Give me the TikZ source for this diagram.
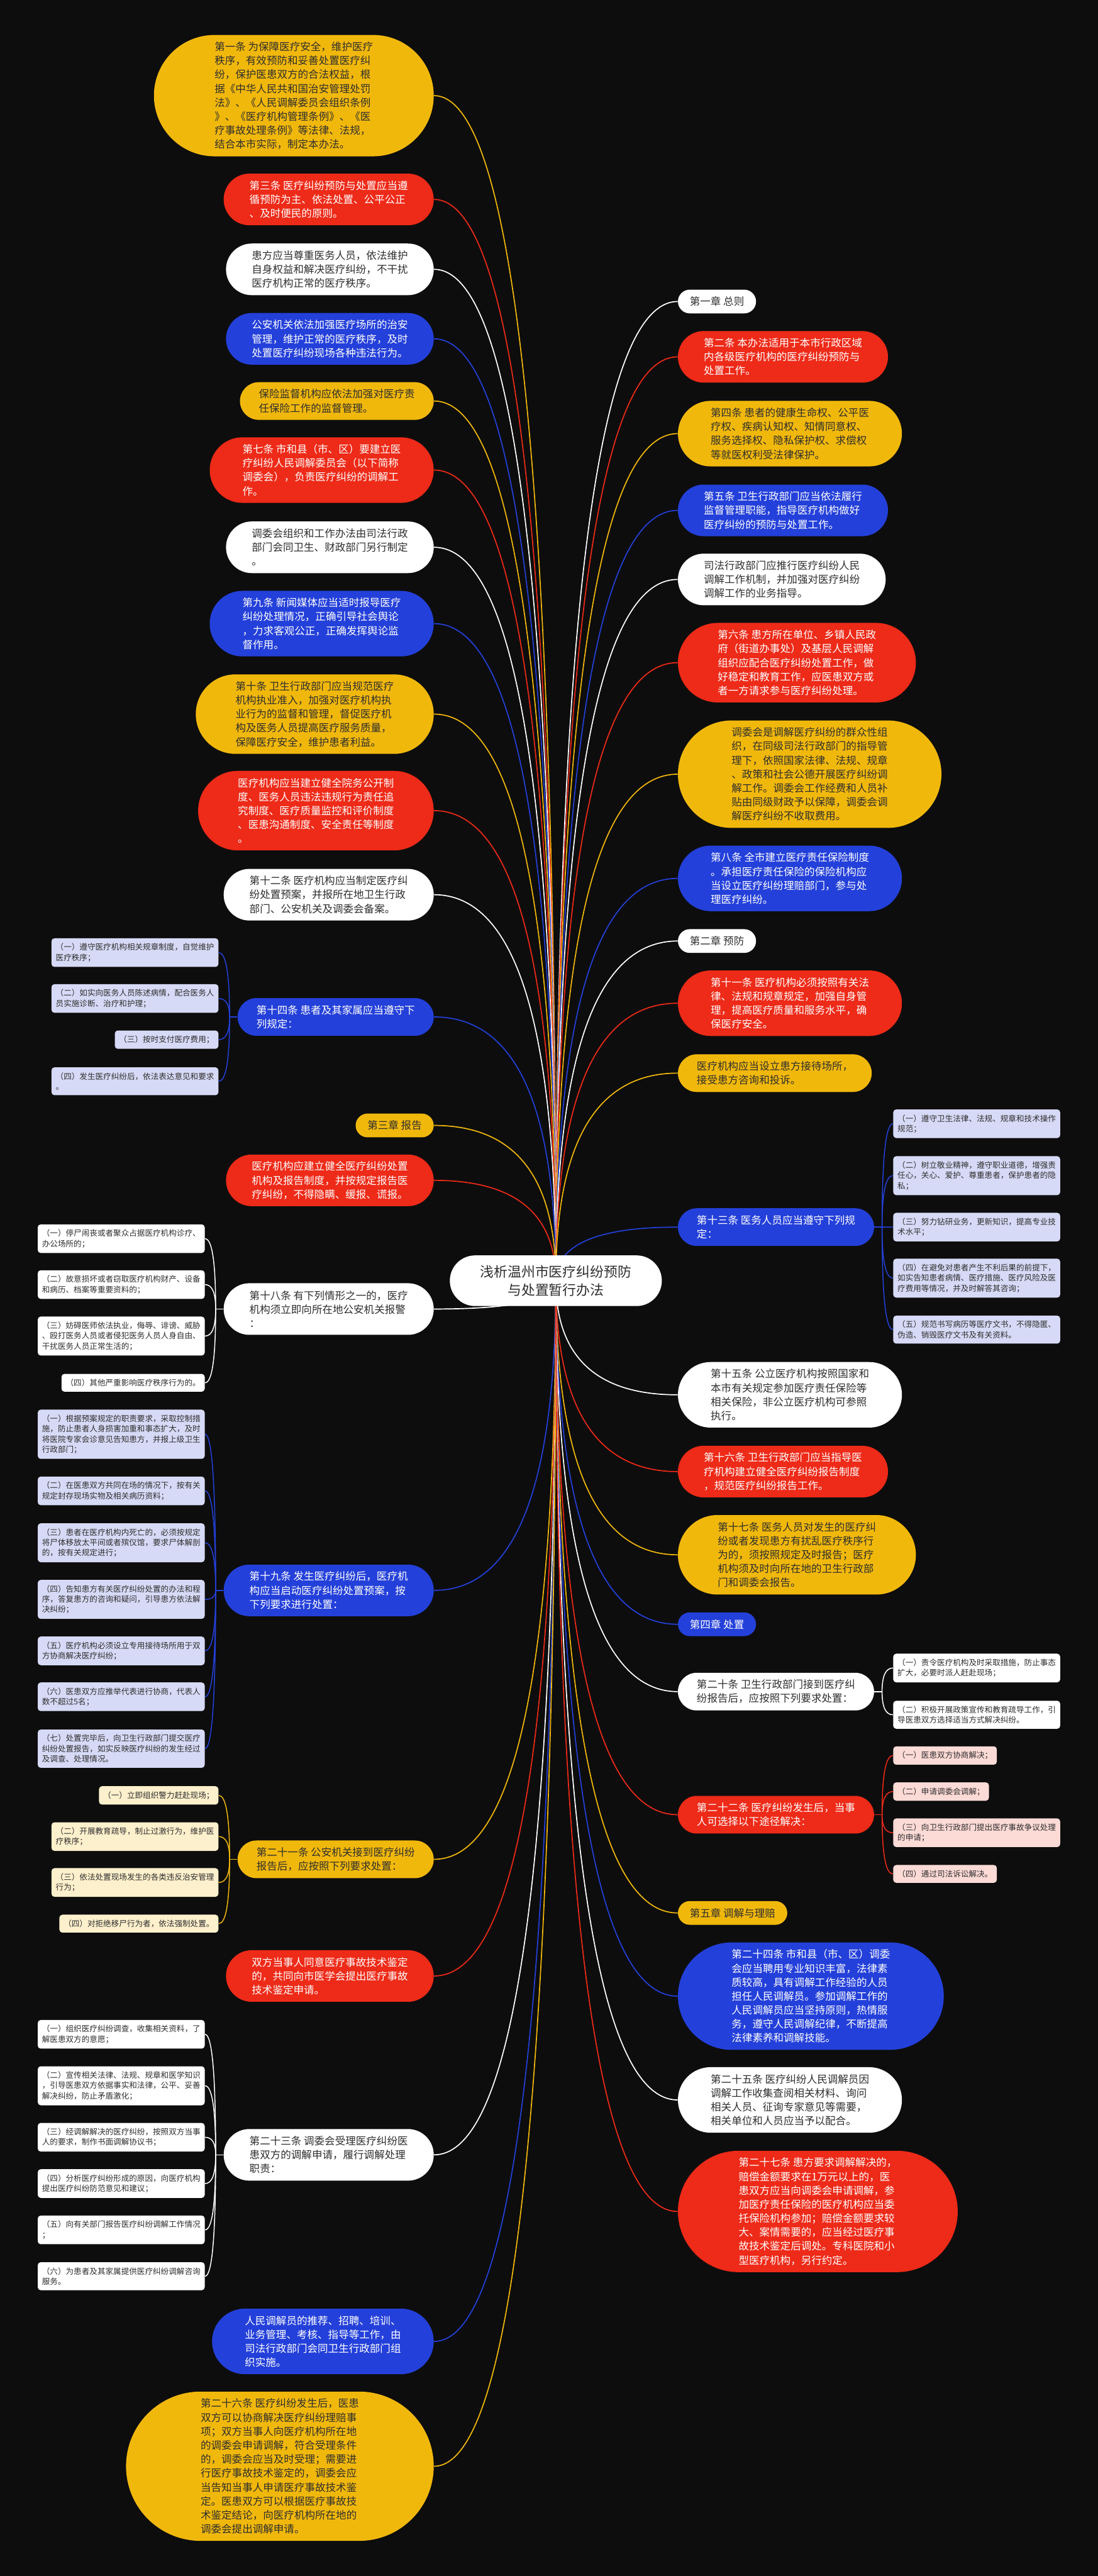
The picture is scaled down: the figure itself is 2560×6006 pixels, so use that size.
\documentclass[tikz,border=0pt]{standalone}
\usepackage{fontspec}
\newfontfamily\cjk{Noto Sans CJK SC}
\usetikzlibrary{calc}
\pgfdeclarelayer{back}
\pgfsetlayers{back,main}

\definecolor{canvas}{HTML}{0D0D0D}
\definecolor{mmYellow}{HTML}{F1B80C}
\definecolor{mmRed}{HTML}{EE2A18}
\definecolor{mmBlue}{HTML}{2440DA}
\definecolor{ink}{HTML}{2E2E2E}
\definecolor{leafBlue}{HTML}{D7DAF6}
\definecolor{leafYellow}{HTML}{FDF0CC}
\definecolor{leafRed}{HTML}{FCDAD6}

% #1 = number of text lines in the pill
\tikzset{
  topic/.style={rectangle, align=left, inner ysep=0pt,
    minimum height={0.228cm+0.325cm*#1},
    inner xsep={0.114cm+0.1625cm*#1},
    rounded corners={0.1135cm+0.1625cm*#1},
    font=\cjk\fontsize{6.9}{9.25}\selectfont},
  ytopic/.style={topic=#1, fill=mmYellow, text=ink},
  rtopic/.style={topic=#1, fill=mmRed, text=white},
  btopic/.style={topic=#1, fill=mmBlue, text=white},
  wtopic/.style={topic=#1, fill=white, text=ink},
  roottopic/.style={rectangle, fill=white, text=ink, align=center,
    minimum width=4.94cm, minimum height=1.18cm, rounded corners=0.589cm,
    font=\cjk\fontsize{9.1}{12.2}\selectfont},
  leaf/.style={rectangle, rounded corners=0.07cm, inner xsep=0.1cm, inner ysep=0.12cm,
    align=left, text=ink, font=\cjk\fontsize{5.25}{6.83}\selectfont},
  bleaf/.style={leaf, fill=leafBlue},
  yleaf/.style={leaf, fill=leafYellow},
  rleaf/.style={leaf, fill=leafRed},
  wleaf/.style={leaf, fill=white},
  branch/.style={line width=0.025cm, to path={
    .. controls ($(\tikztostart)!0.667!(\tikztostart|-\tikztotarget)$)
    and ($(\tikztotarget)!0.667!(\tikztostart|-\tikztotarget)$) .. (\tikztotarget)}},
  twig/.style={branch, line width=0.022cm},
}

\begin{document}
\begin{tikzpicture}[x=0.01cm, y=-0.01cm]
  \useasboundingbox (0,0) rectangle (2560,6006);

  \node[roottopic] (root) at (1296,2986) {浅析温州市医疗纠纷预防\\与处置暂行办法};

  % left side
  \node[ytopic=8, anchor=east] (L1) at (1012,223) {第一条 为保障医疗安全，维护医疗\\秩序，有效预防和妥善处置医疗纠\\纷，保护医患双方的合法权益，根\\据《中华人民共和国治安管理处罚\\法》、《人民调解委员会组织条例\\》、《医疗机构管理条例》、《医\\疗事故处理条例》等法律、法规，\\结合本市实际，制定本办法。};
  \node[rtopic=3, anchor=east] (L3) at (1012,465) {第三条 医疗纠纷预防与处置应当遵\\循预防为主、依法处置、公平公正\\、及时便民的原则。};
  \node[wtopic=3, anchor=east] (L3a) at (1012,628) {患方应当尊重医务人员，依法维护\\自身权益和解决医疗纠纷，不干扰\\医疗机构正常的医疗秩序。};
  \node[btopic=3, anchor=east] (L3b) at (1012,790) {公安机关依法加强医疗场所的治安\\管理，维护正常的医疗秩序，及时\\处置医疗纠纷现场各种违法行为。};
  \node[ytopic=2, anchor=east] (L3c) at (1012,935) {保险监督机构应依法加强对医疗责\\任保险工作的监督管理。};
  \node[rtopic=4, anchor=east] (L7) at (1012,1096) {第七条 市和县（市、区）要建立医\\疗纠纷人民调解委员会（以下简称\\调委会），负责医疗纠纷的调解工\\作。};
  \node[wtopic=3, anchor=east] (L7a) at (1012,1276) {调委会组织和工作办法由司法行政\\部门会同卫生、财政部门另行制定\\。};
  \node[btopic=4, anchor=east] (L9) at (1012,1454) {第九条 新闻媒体应当适时报导医疗\\纠纷处理情况，正确引导社会舆论\\，力求客观公正，正确发挥舆论监\\督作用。};
  \node[ytopic=5, anchor=east] (L10) at (1012,1665) {第十条 卫生行政部门应当规范医疗\\机构执业准入，加强对医疗机构执\\业行为的监督和管理，督促医疗机\\构及医务人员提高医疗服务质量，\\保障医疗安全，维护患者利益。};
  \node[rtopic=5, anchor=east] (L10a) at (1012,1890) {医疗机构应当建立健全院务公开制\\度、医务人员违法违规行为责任追\\究制度、医疗质量监控和评价制度\\、医患沟通制度、安全责任等制度\\。};
  \node[wtopic=3, anchor=east] (L12) at (1012,2086) {第十二条 医疗机构应当制定医疗纠\\纷处置预案，并报所在地卫生行政\\部门、公安机关及调委会备案。};
  \node[btopic=2, anchor=east] (L14) at (1012,2371) {第十四条 患者及其家属应当遵守下\\列规定：};
  \node[ytopic=1, anchor=east] (C3) at (1012,2624) {第三章 报告};
  \node[rtopic=3, anchor=east] (L16) at (1012,2752) {医疗机构应建立健全医疗纠纷处置\\机构及报告制度，并按规定报告医\\疗纠纷，不得隐瞒、缓报、谎报。};
  \node[wtopic=3, anchor=east] (L18) at (1012,3052) {第十八条 有下列情形之一的，医疗\\机构须立即向所在地公安机关报警\\：};
  \node[btopic=3, anchor=east] (L19) at (1012,3708) {第十九条 发生医疗纠纷后，医疗机\\构应当启动医疗纠纷处置预案，按\\下列要求进行处置：};
  \node[ytopic=2, anchor=east] (L21) at (1012,4335) {第二十一条 公安机关接到医疗纠纷\\报告后，应按照下列要求处置：};
  \node[rtopic=3, anchor=east] (L22) at (1012,4607) {双方当事人同意医疗事故技术鉴定\\的，共同向市医学会提出医疗事故\\技术鉴定申请。};
  \node[wtopic=3, anchor=east] (L23) at (1012,5024) {第二十三条 调委会受理医疗纠纷医\\患双方的调解申请，履行调解处理\\职责：};
  \node[btopic=4, anchor=east] (L24) at (1012,5459) {人民调解员的推荐、招聘、培训、\\业务管理、考核、指导等工作，由\\司法行政部门会同卫生行政部门组\\织实施。};
  \node[ytopic=10, anchor=east] (L26) at (1012,5750) {第二十六条 医疗纠纷发生后，医患\\双方可以协商解决医疗纠纷理赔事\\项；双方当事人向医疗机构所在地\\的调委会申请调解，符合受理条件\\的，调委会应当及时受理；需要进\\行医疗事故技术鉴定的，调委会应\\当告知当事人申请医疗事故技术鉴\\定。医患双方可以根据医疗事故技\\术鉴定结论，向医疗机构所在地的\\调委会提出调解申请。};

  % right side
  \node[wtopic=1, anchor=west] (C1) at (1580,703) {第一章 总则};
  \node[rtopic=3, anchor=west] (R2) at (1580,832) {第二条 本办法适用于本市行政区域\\内各级医疗机构的医疗纠纷预防与\\处置工作。};
  \node[ytopic=4, anchor=west] (R4) at (1580,1011) {第四条 患者的健康生命权、公平医\\疗权、疾病认知权、知情同意权、\\服务选择权、隐私保护权、求偿权\\等就医权利受法律保护。};
  \node[btopic=3, anchor=west] (R5) at (1580,1190) {第五条 卫生行政部门应当依法履行\\监督管理职能，指导医疗机构做好\\医疗纠纷的预防与处置工作。};
  \node[wtopic=3, anchor=west] (R5a) at (1580,1351) {司法行政部门应推行医疗纠纷人民\\调解工作机制，并加强对医疗纠纷\\调解工作的业务指导。};
  \node[rtopic=5, anchor=west] (R6) at (1580,1545) {第六条 患方所在单位、乡镇人民政\\府（街道办事处）及基层人民调解\\组织应配合医疗纠纷处置工作，做\\好稳定和教育工作，应医患双方或\\者一方请求参与医疗纠纷处理。};
  \node[ytopic=7, anchor=west] (R7) at (1580,1805) {调委会是调解医疗纠纷的群众性组\\织，在同级司法行政部门的指导管\\理下，依照国家法律、法规、规章\\、政策和社会公德开展医疗纠纷调\\解工作。调委会工作经费和人员补\\贴由同级财政予以保障，调委会调\\解医疗纠纷不收取费用。};
  \node[btopic=4, anchor=west] (R8) at (1580,2048) {第八条 全市建立医疗责任保险制度\\。承担医疗责任保险的保险机构应\\当设立医疗纠纷理赔部门，参与处\\理医疗纠纷。};
  \node[wtopic=1, anchor=west] (C2) at (1580,2194) {第二章 预防};
  \node[rtopic=4, anchor=west] (R11) at (1580,2339) {第十一条 医疗机构必须按照有关法\\律、法规和规章规定，加强自身管\\理，提高医疗质量和服务水平，确\\保医疗安全。};
  \node[ytopic=2, anchor=west] (R11a) at (1580,2502) {医疗机构应当设立患方接待场所，\\接受患方咨询和投诉。};
  \node[btopic=2, anchor=west] (R13) at (1580,2861) {第十三条 医务人员应当遵守下列规\\定：};
  \node[wtopic=4, anchor=west] (R15) at (1580,3252) {第十五条 公立医疗机构按照国家和\\本市有关规定参加医疗责任保险等\\相关保险，非公立医疗机构可参照\\执行。};
  \node[rtopic=3, anchor=west] (R16) at (1580,3431) {第十六条 卫生行政部门应当指导医\\疗机构建立健全医疗纠纷报告制度\\，规范医疗纠纷报告工作。};
  \node[ytopic=5, anchor=west] (R17) at (1580,3625) {第十七条 医务人员对发生的医疗纠\\纷或者发现患方有扰乱医疗秩序行\\为的，须按照规定及时报告；医疗\\机构须及时向所在地的卫生行政部\\门和调委会报告。};
  \node[btopic=1, anchor=west] (C4) at (1580,3787) {第四章 处置};
  \node[wtopic=2, anchor=west] (R20) at (1580,3944) {第二十条 卫生行政部门接到医疗纠\\纷报告后，应按照下列要求处置：};
  \node[rtopic=2, anchor=west] (R22) at (1580,4231) {第二十二条 医疗纠纷发生后，当事\\人可选择以下途径解决：};
  \node[ytopic=1, anchor=west] (C5) at (1580,4460) {第五章 调解与理赔};
  \node[btopic=7, anchor=west] (R24) at (1580,4654) {第二十四条 市和县（市、区）调委\\会应当聘用专业知识丰富，法律素\\质较高，具有调解工作经验的人员\\担任人民调解员。参加调解工作的\\人民调解员应当坚持原则，热情服\\务，遵守人民调解纪律，不断提高\\法律素养和调解技能。};
  \node[wtopic=4, anchor=west] (R25) at (1580,4896) {第二十五条 医疗纠纷人民调解员因\\调解工作收集查阅相关材料、询问\\相关人员、征询专家意见等需要，\\相关单位和人员应当予以配合。};
  \node[rtopic=8, anchor=west] (R27) at (1580,5156) {第二十七条 患方要求调解解决的，\\赔偿金额要求在1万元以上的，医\\患双方应当向调委会申请调解，参\\加医疗责任保险的医疗机构应当委\\托保险机构参加；赔偿金额要求较\\大、案情需要的，应当经过医疗事\\故技术鉴定后调处。专科医院和小\\型医疗机构，另行约定。};

  % leaves of L14
  \node[bleaf, anchor=east] (L14a) at (510,2221) {（一）遵守医疗机构相关规章制度，自觉维护\\医疗秩序；};
  \node[bleaf, anchor=east] (L14b) at (510,2328) {（二）如实向医务人员陈述病情，配合医务人\\员实施诊断、治疗和护理；};
  \node[bleaf, anchor=east] (L14c) at (510,2424) {（三）按时支付医疗费用；};
  \node[bleaf, anchor=east] (L14d) at (510,2521) {（四）发生医疗纠纷后，依法表达意见和要求\\。};
  % leaves of L18
  \node[wleaf, anchor=east] (L18a) at (478,2888) {（一）停尸闹丧或者聚众占据医疗机构诊疗、\\办公场所的；};
  \node[wleaf, anchor=east] (L18b) at (478,2995) {（二）故意损坏或者窃取医疗机构财产、设备\\和病历、档案等重要资料的；};
  \node[wleaf, anchor=east] (L18c) at (478,3115) {（三）妨碍医师依法执业，侮辱、诽谤、威胁\\、殴打医务人员或者侵犯医务人员人身自由、\\干扰医务人员正常生活的；};
  \node[wleaf, anchor=east] (L18d) at (478,3224) {（四）其他严重影响医疗秩序行为的。};
  % leaves of L19
  \node[bleaf, anchor=east] (L19a) at (478,3344) {（一）根据预案规定的职责要求，采取控制措\\施，防止患者人身损害加重和事态扩大，及时\\将医院专家会诊意见告知患方，并报上级卫生\\行政部门；};
  \node[bleaf, anchor=east] (L19b) at (478,3476) {（二）在医患双方共同在场的情况下，按有关\\规定封存现场实物及相关病历资料；};
  \node[bleaf, anchor=east] (L19c) at (478,3597) {（三）患者在医疗机构内死亡的，必须按规定\\将尸体移放太平间或者殡仪馆，要求尸体解剖\\的，按有关规定进行；};
  \node[bleaf, anchor=east] (L19d) at (478,3729) {（四）告知患方有关医疗纠纷处置的办法和程\\序，答复患方的咨询和疑问，引导患方依法解\\决纠纷；};
  \node[bleaf, anchor=east] (L19e) at (478,3849) {（五）医疗机构必须设立专用接待场所用于双\\方协商解决医疗纠纷；};
  \node[bleaf, anchor=east] (L19f) at (478,3956) {（六）医患双方应推举代表进行协商，代表人\\数不超过5名；};
  \node[bleaf, anchor=east] (L19g) at (478,4077) {（七）处置完毕后，向卫生行政部门提交医疗\\纠纷处置报告，如实反映医疗纠纷的发生经过\\及调查、处理情况。};
  % leaves of L21
  \node[yleaf, anchor=east] (L21a) at (510,4186) {（一）立即组织警力赶赴现场；};
  \node[yleaf, anchor=east] (L21b) at (510,4282) {（二）开展教育疏导，制止过激行为，维护医\\疗秩序；};
  \node[yleaf, anchor=east] (L21c) at (510,4389) {（三）依法处置现场发生的各类违反治安管理\\行为；};
  \node[yleaf, anchor=east] (L21d) at (510,4485) {（四）对拒绝移尸行为者，依法强制处置。};
  % leaves of L23
  \node[wleaf, anchor=east] (L23a) at (478,4743) {（一）组织医疗纠纷调查，收集相关资料，了\\解医患双方的意愿；};
  \node[wleaf, anchor=east] (L23b) at (478,4863) {（二）宣传相关法律、法规、规章和医学知识\\，引导医患双方依据事实和法律，公平、妥善\\解决纠纷，防止矛盾激化；};
  \node[wleaf, anchor=east] (L23c) at (478,4983) {（三）经调解解决的医疗纠纷，按照双方当事\\人的要求，制作书面调解协议书；};
  \node[wleaf, anchor=east] (L23d) at (478,5091) {（四）分析医疗纠纷形成的原因，向医疗机构\\提出医疗纠纷防范意见和建议；};
  \node[wleaf, anchor=east] (L23e) at (478,5199) {（五）向有关部门报告医疗纠纷调解工作情况\\；};
  \node[wleaf, anchor=east] (L23f) at (478,5307) {（六）为患者及其家属提供医疗纠纷调解咨询\\服务。};
  % leaves of R13
  \node[bleaf, anchor=west] (R13a) at (2082,2620) {（一）遵守卫生法律、法规、规章和技术操作\\规范；};
  \node[bleaf, anchor=west] (R13b) at (2082,2741) {（二）树立敬业精神，遵守职业道德，增强责\\任心，关心、爱护、尊重患者，保护患者的隐\\私；};
  \node[bleaf, anchor=west] (R13c) at (2082,2861) {（三）努力钻研业务，更新知识，提高专业技\\术水平；};
  \node[bleaf, anchor=west] (R13d) at (2082,2980) {（四）在避免对患者产生不利后果的前提下，\\如实告知患者病情、医疗措施、医疗风险及医\\疗费用等情况，并及时解答其咨询；};
  \node[bleaf, anchor=west] (R13e) at (2082,3100) {（五）规范书写病历等医疗文书，不得隐匿、\\伪造、销毁医疗文书及有关资料。};
  % leaves of R20
  \node[wleaf, anchor=west] (R20a) at (2082,3889) {（一）责令医疗机构及时采取措施，防止事态\\扩大，必要时派人赶赴现场；};
  \node[wleaf, anchor=west] (R20b) at (2082,3998) {（二）积极开展政策宣传和教育疏导工作，引\\导医患双方选择适当方式解决纠纷。};
  % leaves of R22
  \node[rleaf, anchor=west] (R22a) at (2082,4093) {（一）医患双方协商解决；};
  \node[rleaf, anchor=west] (R22b) at (2082,4177) {（二）申请调委会调解；};
  \node[rleaf, anchor=west] (R22c) at (2082,4273) {（三）向卫生行政部门提出医疗事故争议处理\\的申请；};
  \node[rleaf, anchor=west] (R22d) at (2082,4369) {（四）通过司法诉讼解决。};

  \begin{pgfonlayer}{back}
    \fill[canvas] (0,0) rectangle (2560,6006);
    \foreach \n/\c in {L1/mmYellow, L3/mmRed, L3a/white, L3b/mmBlue, L3c/mmYellow,
        L7/mmRed, L7a/white, L9/mmBlue, L10/mmYellow, L10a/mmRed, L12/white,
        L14/mmBlue, C3/mmYellow, L16/mmRed, L18/white, L19/mmBlue, L21/mmYellow,
        L22/mmRed, L23/white, L24/mmBlue, L26/mmYellow}
      \draw[branch, \c] (root.center) to (\n.east);
    \foreach \n/\c in {C1/white, R2/mmRed, R4/mmYellow, R5/mmBlue, R5a/white,
        R6/mmRed, R7/mmYellow, R8/mmBlue, C2/white, R11/mmRed, R11a/mmYellow,
        R13/mmBlue, R15/white, R16/mmRed, R17/mmYellow, C4/mmBlue, R20/white,
        R22/mmRed, C5/mmYellow, R24/mmBlue, R25/white, R27/mmRed}
      \draw[branch, \c] (root.center) to (\n.west);
    % leaves, left side
    \foreach \p/\c/\kids in {L14/mmBlue/{a,b,c,d}, L18/white/{a,b,c,d},
        L19/mmBlue/{a,b,c,d,e,f,g}, L21/mmYellow/{a,b,c,d}, L23/white/{a,b,c,d,e,f}} {
      \coordinate (j) at ($(\p.west)+(-18,0)$);
      \draw[twig, \c] (\p.west) -- (j);
      \foreach \k in \kids
        \draw[twig, \c] (j) to (\p\k.east);
    }
    % leaves, right side
    \foreach \p/\c/\kids in {R13/mmBlue/{a,b,c,d,e}, R20/white/{a,b}, R22/mmRed/{a,b,c,d}} {
      \coordinate (j) at ($(\p.east)+(18,0)$);
      \draw[twig, \c] (\p.east) -- (j);
      \foreach \k in \kids
        \draw[twig, \c] (j) to (\p\k.west);
    }
  \end{pgfonlayer}
\end{tikzpicture}
\end{document}
